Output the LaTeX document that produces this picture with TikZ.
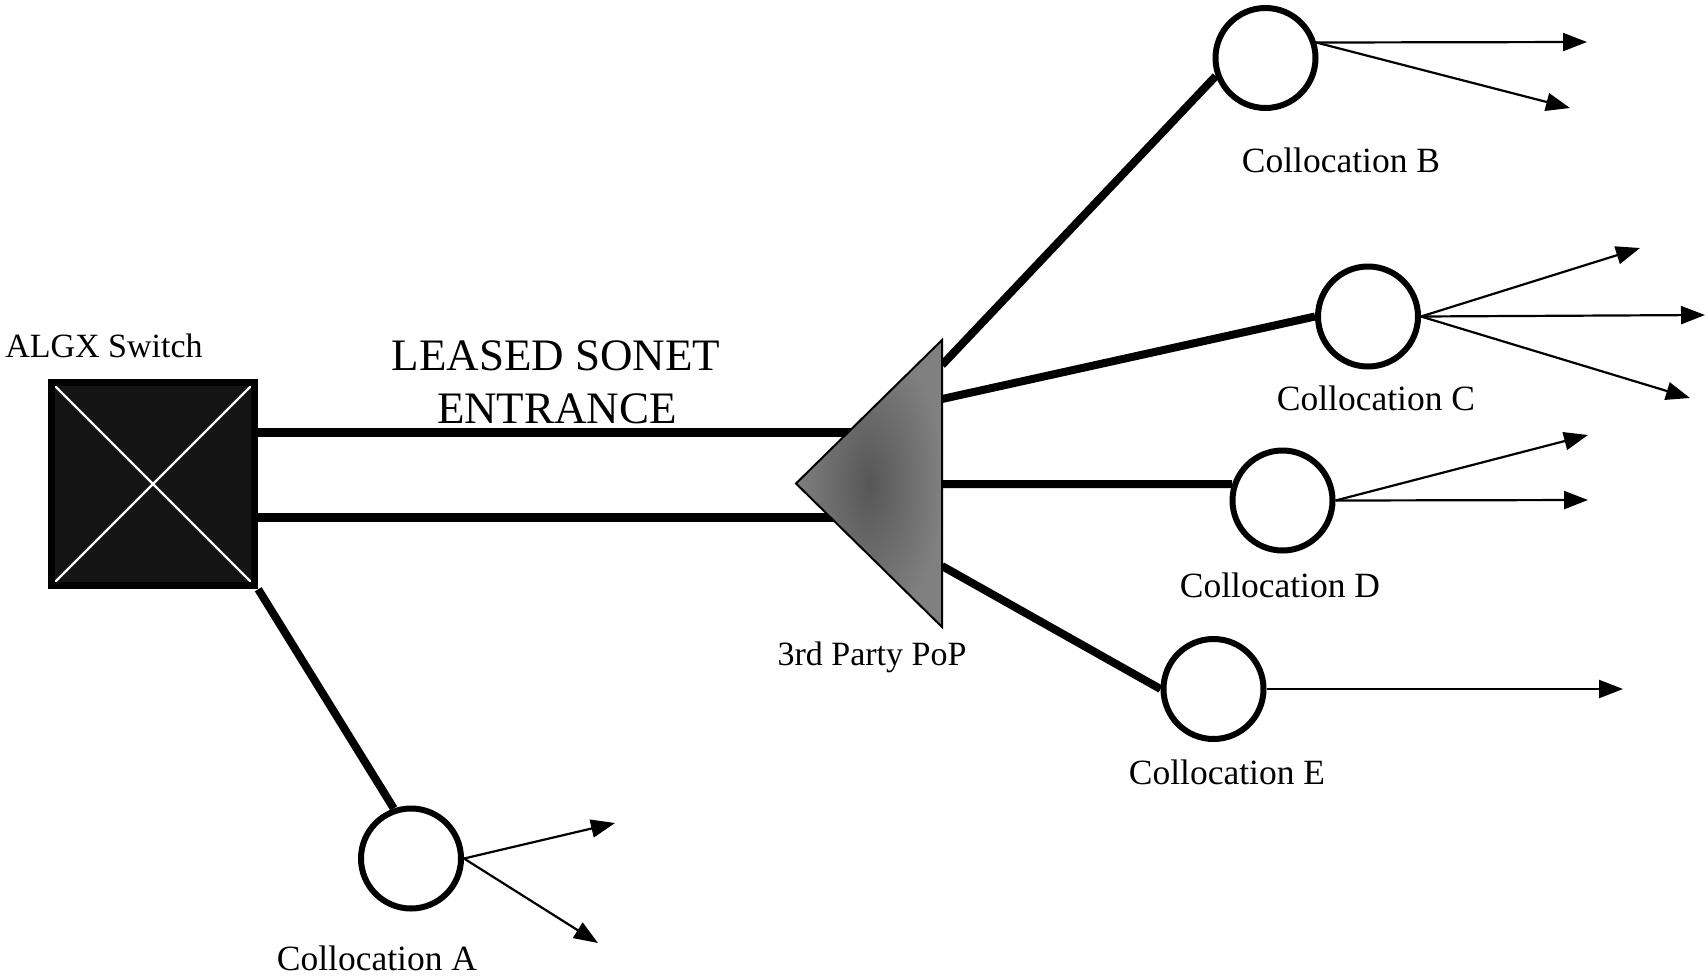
\documentclass[tikz,border=0pt]{standalone}
\usepackage{fontspec}
\setmainfont{Liberation Serif}
\usetikzlibrary{arrows.meta}
\begin{document}
\begin{tikzpicture}[x=1pt,y=-1pt,
  lbl/.style={font=\fontsize{35.5}{40}\selectfont, anchor=base, inner sep=0pt},
  small/.style={font=\fontsize{34}{38}\selectfont, anchor=base, inner sep=0pt},
  big/.style={font=\fontsize{45}{50}\selectfont, anchor=base, inner sep=0pt},
  site/.style={circle, draw, line width=6pt, minimum size=100pt, inner sep=0pt, fill=white},
  trunk/.style={line width=9.5pt},
  feed/.style={line width=8pt},
  outlink/.style={line width=2.2pt, -{Triangle[length=24pt,width=18pt]}},
]
\useasboundingbox (0,0) rectangle (1708,975);

% switch
\node[draw, line width=7pt, fill=black!92, minimum size=203.5pt, inner sep=0pt,
      path picture={
        \draw[white, line width=2.2pt]
          (path picture bounding box.north west) -- (path picture bounding box.south east)
          (path picture bounding box.south west) -- (path picture bounding box.north east);
      }] (sw) at (153,484) {};
\node[small] (swlbl) at (104,357) {ALGX Switch};

% point of presence (frame for the triangle)
\node[inner sep=0pt, outer sep=0pt, minimum width=146pt, minimum height=287pt] (pop) at (869,483.5) {};

% collocation sites
\node[site] (cA) at (411,858.5) {};
\node[site] (cB) at (1265.5,58) {};
\node[site] (cC) at (1368,316.5) {};
\node[site] (cD) at (1282.5,500.5) {};
\node[site] (cE) at (1213.5,689) {};

% leased SONET trunks
\draw[trunk] (sw.east |- 0,432.5) -- (pop.center |- 0,432.5);
\draw[trunk] (sw.east |- 0,517.5) -- (pop.center |- 0,517.5);

% links from the switch and from the PoP
\draw[feed] (sw.south east) -- (cA.109);
\draw[feed] (pop.east |- 0,365) -- (cB.200);
\draw[feed] (pop.east |- 0,399) -- (cC.180);
\draw[feed] (pop.east |- 0,484) -- (cD.162);
\draw[feed] (pop.east |- 0,566) -- (cE.180);

% triangle
\shadedraw[line width=2pt, shading=radial, inner color=black!66, outer color=black!50]
  (pop.north east) -- (pop.west) -- (pop.south east) -- cycle;
\node[small] (poplbl) at (872,665) {3rd Party PoP};

% trunk label
\node[big] (t1) at (556,370) {LEASED SONET};
\node[big] (t2) at (557,423) {ENTRANCE};

% outgoing links
\coordinate (a1) at (615,823);
\coordinate (a2) at (598,943);
\coordinate (b1) at (1587,42);
\coordinate (b2) at (1570,108);
\coordinate (c1) at (1640,248);
\coordinate (c2) at (1705,315);
\coordinate (c3) at (1690,398);
\coordinate (d1) at (1588,435);
\coordinate (d2) at (1588,500);
\coordinate (e1) at (1623,689);

\draw[outlink] (cA.east) -- (a1);
\draw[outlink] (cA.east) -- (a2);
\draw[outlink] (cB.17) -- (b1);
\draw[outlink] (cB.17) -- (b2);
\draw[outlink] (cC.east) -- (c1);
\draw[outlink] (cC.east) -- (c2);
\draw[outlink] (cC.east) -- (c3);
\draw[outlink] (cD.east) -- (d1);
\draw[outlink] (cD.east) -- (d2);
\draw[outlink] (cE.east) -- (e1);

% site labels
\node[lbl] (lA) at (377,970) {Collocation A};
\node[lbl] (lB) at (1341,172) {Collocation B};
\node[lbl] (lC) at (1376,410) {Collocation C};
\node[lbl] (lD) at (1280,597) {Collocation D};
\node[lbl] (lE) at (1227,784) {Collocation E};
\end{tikzpicture}
\end{document}
